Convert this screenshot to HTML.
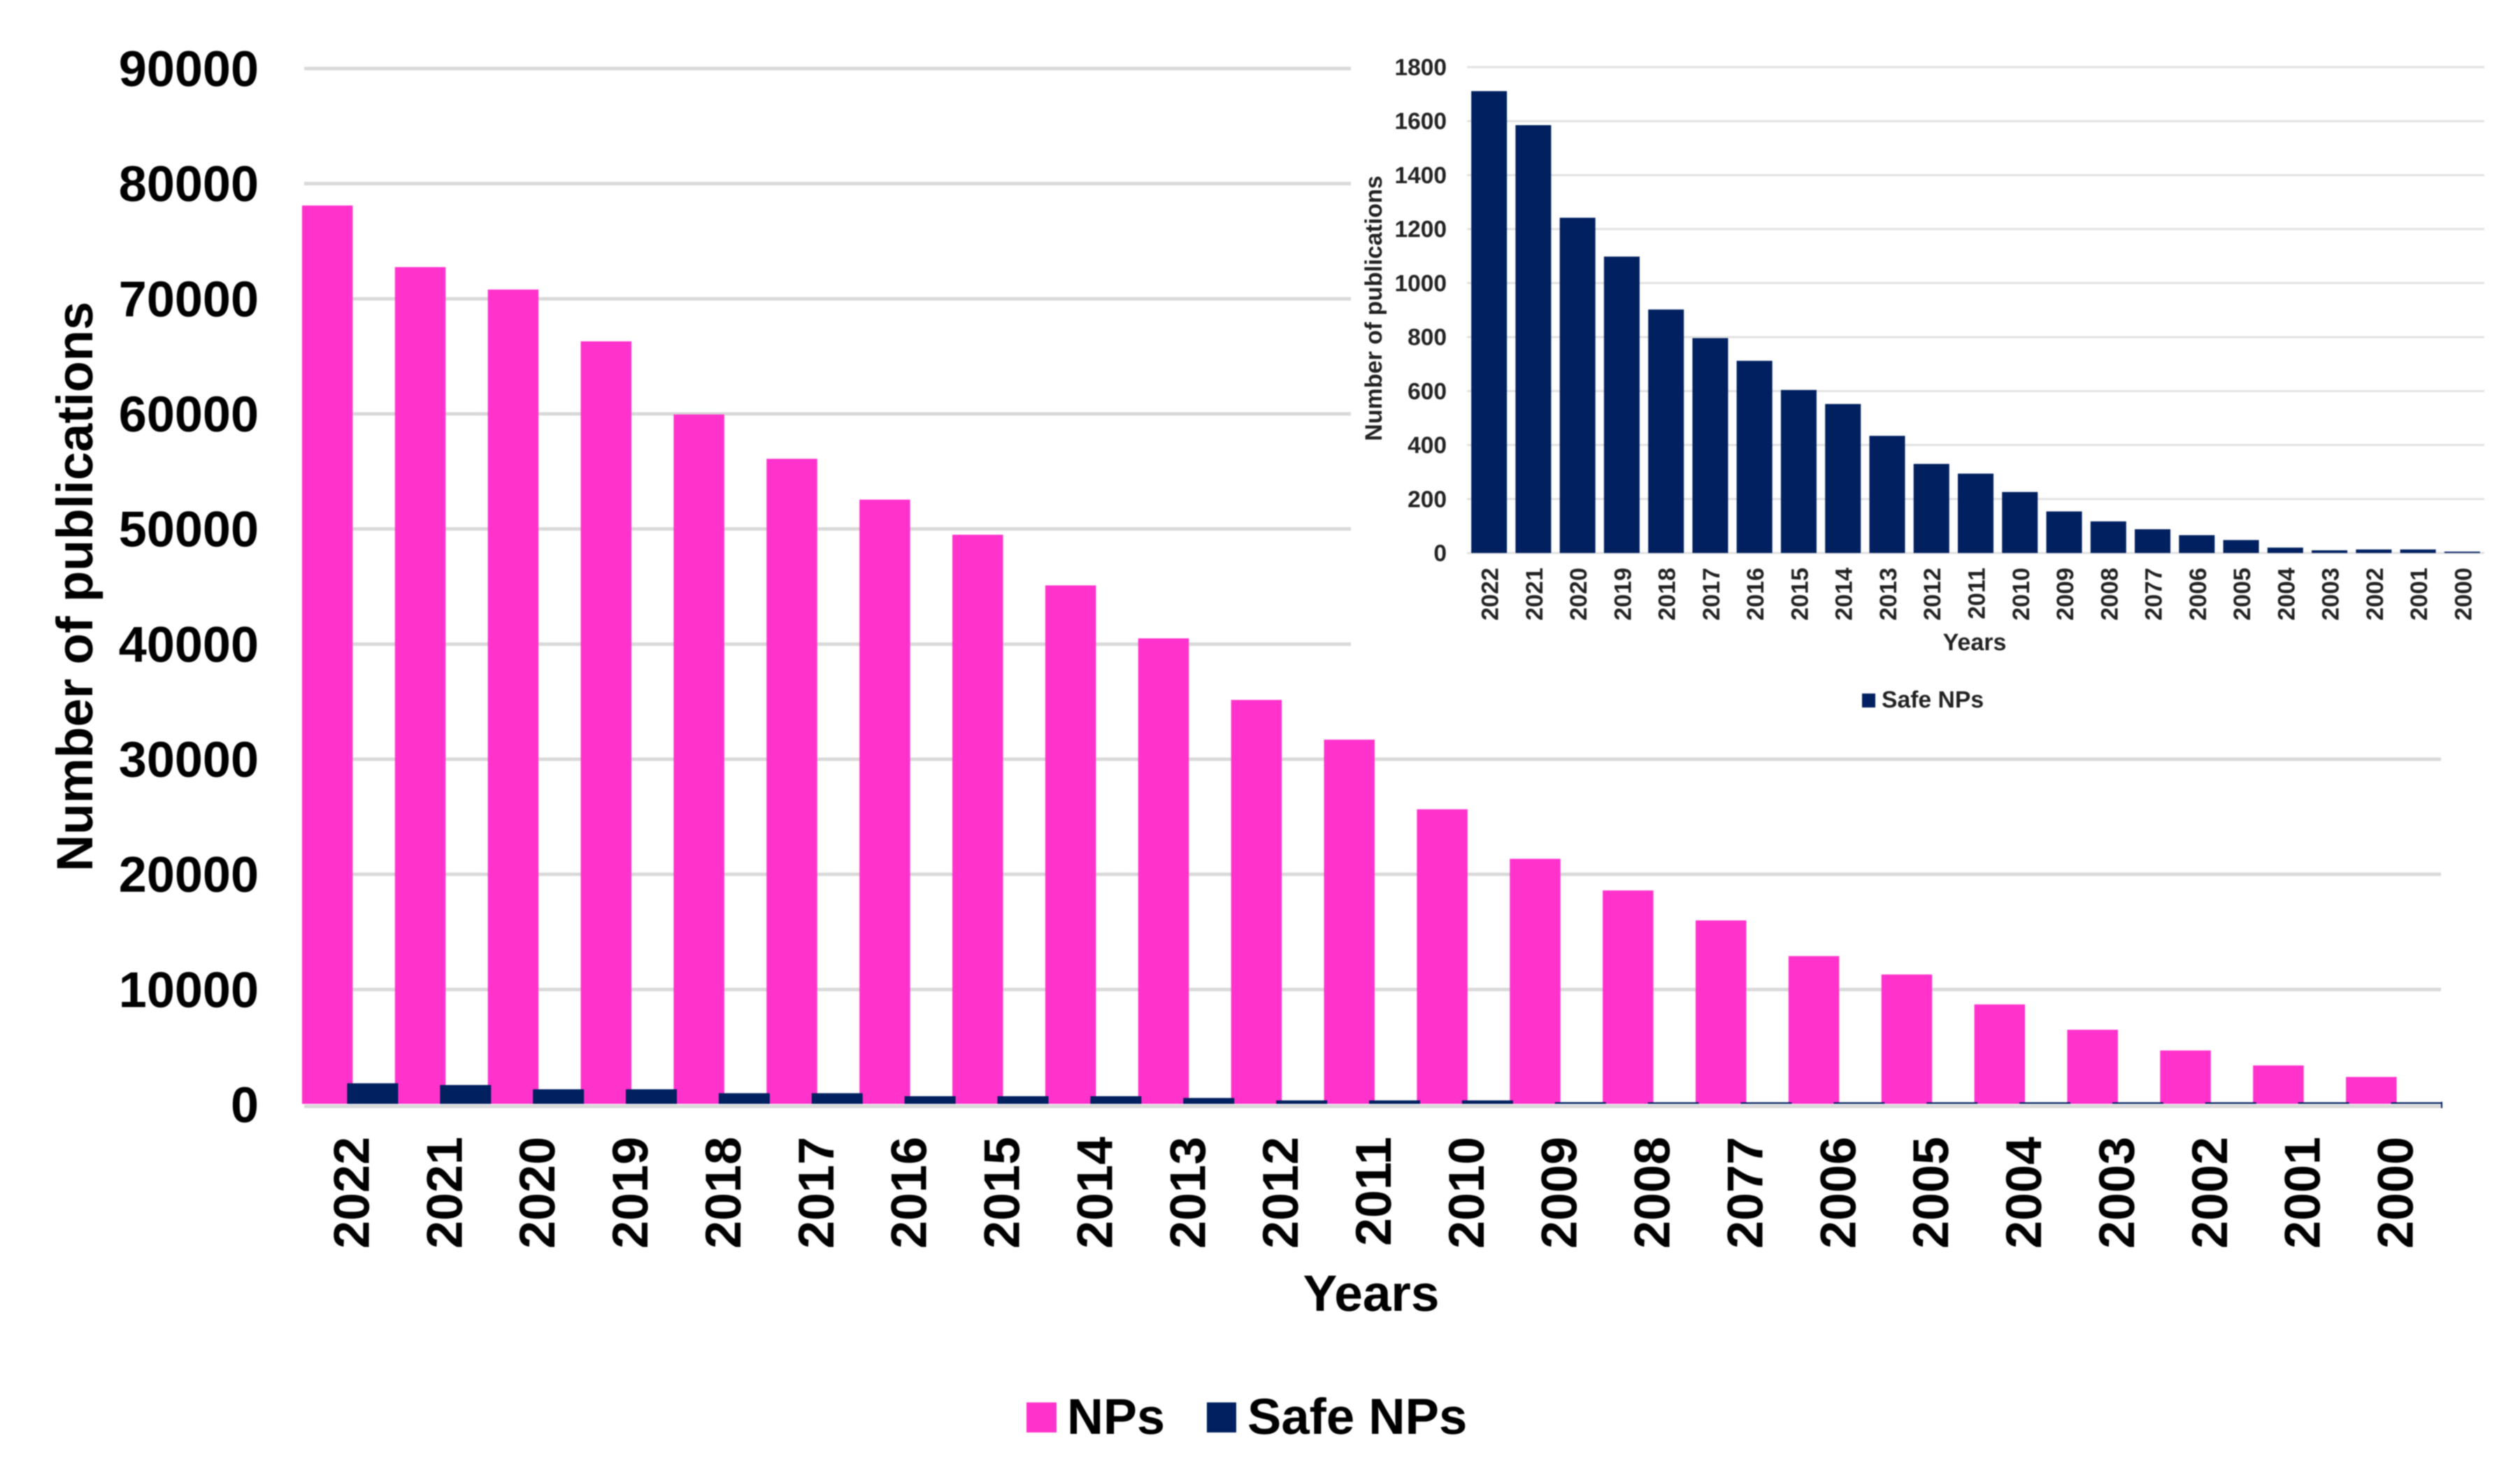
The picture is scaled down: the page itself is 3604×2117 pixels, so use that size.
<!DOCTYPE html>
<html lang="en">
<head>
<meta charset="utf-8">
<title>Number of publications on NPs and Safe NPs, 2000-2022</title>
<style>
html,body{margin:0;padding:0;background:#fff;}
body{width:3604px;height:2117px;overflow:hidden;}
svg{display:block;filter:blur(0.9px);}
text{font-family:"Liberation Sans",Arial,sans-serif;font-weight:700;text-rendering:geometricPrecision;}
</style>
</head>
<body>
<svg id="chart" xmlns="http://www.w3.org/2000/svg" width="3604" height="2117" viewBox="0 0 3604 2117"></svg>
<script>
// Shared categories (as printed in the figure, including the "2077" label)
const years = ["2022","2021","2020","2019","2018","2017","2016","2015","2014","2013","2012","2011","2010","2009","2008","2077","2006","2005","2004","2003","2002","2001","2000"];

// Main chart
const npsValues = [78100,72750,70800,66300,59950,56100,52550,49500,45100,40500,35150,31700,25650,21350,18600,16000,12900,11300,8700,6500,4700,3400,2400];
const safeNpsValuesMain = [1850,1700,1330,1330,990,990,730,730,730,575,365,365,365,210,200,200,200,200,200,200,200,200,200];
const mainYTicks = [0,10000,20000,30000,40000,50000,60000,70000,80000,90000];

// Inset chart
const safeNpsValuesInset = [1711,1585,1242,1098,902,796,712,604,552,434,330,294,226,154,117,88,66,48,20,10,13,13,5];
const insetYTicks = [0,200,400,600,800,1000,1200,1400,1600,1800];

const PINK = "#FF33CC";
const NAVY = "#002060";
const svg = document.getElementById("chart");
const NS = "http://www.w3.org/2000/svg";

function make(tag, attrs, parent, content) {
  const el = document.createElementNS(NS, tag);
  for (const k in attrs) el.setAttribute(k, attrs[k]);
  if (content !== undefined) el.textContent = content;
  (parent || svg).appendChild(el);
  return el;
}

// Axis functions
const mainPlot = {left: 435, right: 3491};
const insetPlot = {left: 2098, right: 3553};
function mainY(v) { return 1580 - (v / 90000) * 1482; }
function mainBand(i) { return mainPlot.left + (mainPlot.right - mainPlot.left) * (i + 0.5) / years.length; }
function insetY(v) { return 791 - (v / 1800) * 695; }
function insetBand(i) { return insetPlot.left + (insetPlot.right - insetPlot.left) * (i + 0.5) / years.length; }

/* ---------- MAIN CHART ---------- */
const mainGroup = make("g", {});



mainYTicks.forEach(function (t) {
  const yPos = t === 0 ? mainY(0) + 2.5 : mainY(t);
  const line = make("line", {x1: mainPlot.left, x2: mainPlot.right, y1: yPos, y2: yPos, stroke: "#d9d9d9", "stroke-width": 5}, mainGroup);
  
  
  const label = make("text", {x: 370, y: mainY(t) + 25, "text-anchor": "end", "font-size": 72, fill: "#000"}, mainGroup, String(t));
  
  
});

npsValues.forEach(function (v, i) {
  const c = mainBand(i);
  const bar = make("rect", {x: c - 69.5, y: mainY(v), width: 72.5, height: mainY(0) - mainY(v) - 1, fill: PINK}, mainGroup);
  
  
});
safeNpsValuesMain.forEach(function (v, i) {
  const c = mainBand(i);
  const bar = make("rect", {x: c - 5, y: mainY(v), width: 73, height: mainY(0) - mainY(v) - 1, fill: NAVY}, mainGroup);
  
  
});

const axisEndTick = make("line", {x1: mainPlot.right + 1, x2: mainPlot.right + 1, y1: mainY(0) - 4, y2: mainY(0) + 5, stroke: NAVY, "stroke-width": 2}, mainGroup);



years.forEach(function (yr, i) {
  const c = mainBand(i);
  const label = make("text", {transform: "translate(" + (c + 26) + ",1626) rotate(-90)", "text-anchor": "end", "font-size": 72, fill: "#000"}, mainGroup, yr);
  
  
});

const mainYTitle = make("text", {transform: "translate(132,839) rotate(-90)", "text-anchor": "middle", "font-size": 73, fill: "#000"}, mainGroup, "Number of publications");



const mainXTitle = make("text", {x: 1961, y: 1875, "text-anchor": "middle", "font-size": 73, fill: "#000"}, mainGroup, "Years");



const mainLegend = make("g", {}, mainGroup);


const npsSwatch = make("rect", {x: 1468, y: 2006, width: 43, height: 43, fill: PINK}, mainLegend);


const npsLabel = make("text", {x: 1526, y: 2051, "font-size": 72, fill: "#000"}, mainLegend, "NPs");


const safeSwatch = make("rect", {x: 1726, y: 2006, width: 42, height: 43, fill: NAVY}, mainLegend);


const safeLabel = make("text", {x: 1784, y: 2051, "font-size": 72.5, fill: "#000"}, mainLegend, "Safe NPs");



/* ---------- INSET CHART ---------- */
const insetGroup = make("g", {});



const insetBg = make("rect", {x: 1932, y: 0, width: 1672, height: 1055, fill: "#fff"}, insetGroup);



insetYTicks.forEach(function (t) {
  const line = make("line", {x1: insetPlot.left, x2: insetPlot.right, y1: insetY(t), y2: insetY(t), stroke: "#e2e2e2", "stroke-width": 3}, insetGroup);
  
  
  const label = make("text", {x: 2069, y: insetY(t) + 11.5, "text-anchor": "end", "font-size": 33.5, fill: "#222"}, insetGroup, String(t));
  
  
});

safeNpsValuesInset.forEach(function (v, i) {
  const c = insetBand(i);
  const bar = make("rect", {x: c - 25.5, y: insetY(v), width: 51, height: insetY(0) - insetY(v), fill: NAVY}, insetGroup);
  
  
});

years.forEach(function (yr, i) {
  const c = insetBand(i);
  const label = make("text", {transform: "translate(" + (c + 13) + ",812) rotate(-90)", "text-anchor": "end", "font-size": 34, fill: "#222"}, insetGroup, yr);
  
  
});

const insetYTitle = make("text", {transform: "translate(1976,441) rotate(-90)", "text-anchor": "middle", "font-size": 34, fill: "#222"}, insetGroup, "Number of publications");



const insetXTitle = make("text", {x: 2824, y: 930, "text-anchor": "middle", "font-size": 34, fill: "#222"}, insetGroup, "Years");



const insetLegend = make("g", {}, insetGroup);


const insetSwatch = make("rect", {x: 2663, y: 992, width: 19, height: 20, fill: NAVY}, insetLegend);


const insetLabel = make("text", {x: 2691, y: 1012, "font-size": 33.7, fill: "#222"}, insetLegend, "Safe NPs");


</script>
</body>
</html>
